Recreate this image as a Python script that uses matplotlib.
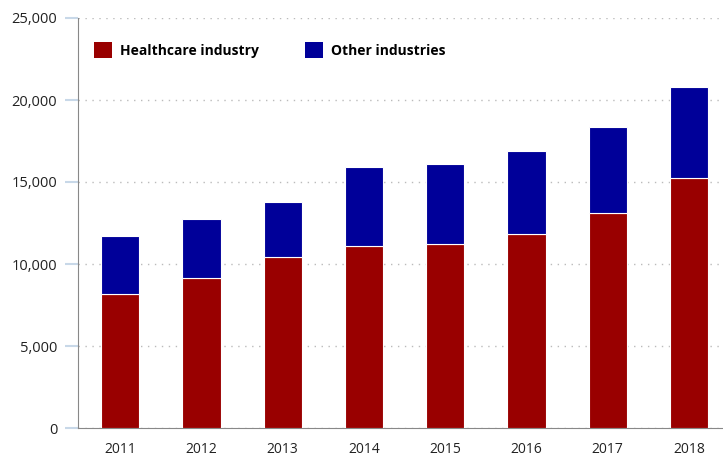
import matplotlib.pyplot as plt
from matplotlib.patches import Patch
from matplotlib.ticker import FuncFormatter

years = ['2011', '2012', '2013', '2014', '2015', '2016', '2017', '2018']
healthcare = [8190, 9150, 10430, 11120, 11200, 11810, 13110, 15260]
other = [3500, 3580, 3330, 4800, 4900, 5060, 5220, 5510]

red = '#990000'
blue = '#000099'

plt.rcParams['font.family'] = ['Open Sans', 'DejaVu Sans']

fig = plt.figure(figsize=(7.23, 4.59), dpi=100)
ax = fig.add_axes([78 / 723, 1 - 428 / 459, (723 - 78) / 723, 410 / 459])

x = range(len(years))
ax.bar(x, healthcare, width=0.47, color=red, edgecolor='white', linewidth=0.8, zorder=3)
ax.bar(x, other, width=0.47, bottom=healthcare, color=blue, edgecolor='white',
       linewidth=0.8, zorder=3)

ax.set_xlim(-0.52, 7.42)
ax.set_ylim(0, 25000)
ax.set_yticks(range(0, 25001, 5000))
ax.yaxis.set_major_formatter(FuncFormatter(lambda v, p: '{:,.0f}'.format(v)))
ax.set_xticks(list(x))
ax.set_xticklabels(years)

ax.grid(axis='y', color='#bbbbbb', linestyle=(0, (1, 4)), linewidth=1, zorder=0)
for s in ['top', 'right']:
    ax.spines[s].set_visible(False)
ax.spines['left'].set_color('#888888')
ax.spines['bottom'].set_color('#888888')
ax.tick_params(axis='y', length=9.4, color='#c8d8e8', width=1.5, labelsize=10.5,
               labelcolor='#222222', pad=5.5)
ax.tick_params(axis='x', length=0, labelsize=10, labelcolor='#222222', pad=10)

handles = [Patch(facecolor=red, label='Healthcare industry'),
           Patch(facecolor=blue, label='Other industries')]
fig.legend(handles=handles, loc='center left', bbox_to_anchor=(88 / 723, 1 - 50 / 459),
           ncol=2, frameon=False, handlelength=1.3, handleheight=1.3,
           handletextpad=0.6, columnspacing=3.3, borderaxespad=0,
           prop={'weight': 'bold', 'size': 10})

fig.savefig('out.png', dpi=100)
